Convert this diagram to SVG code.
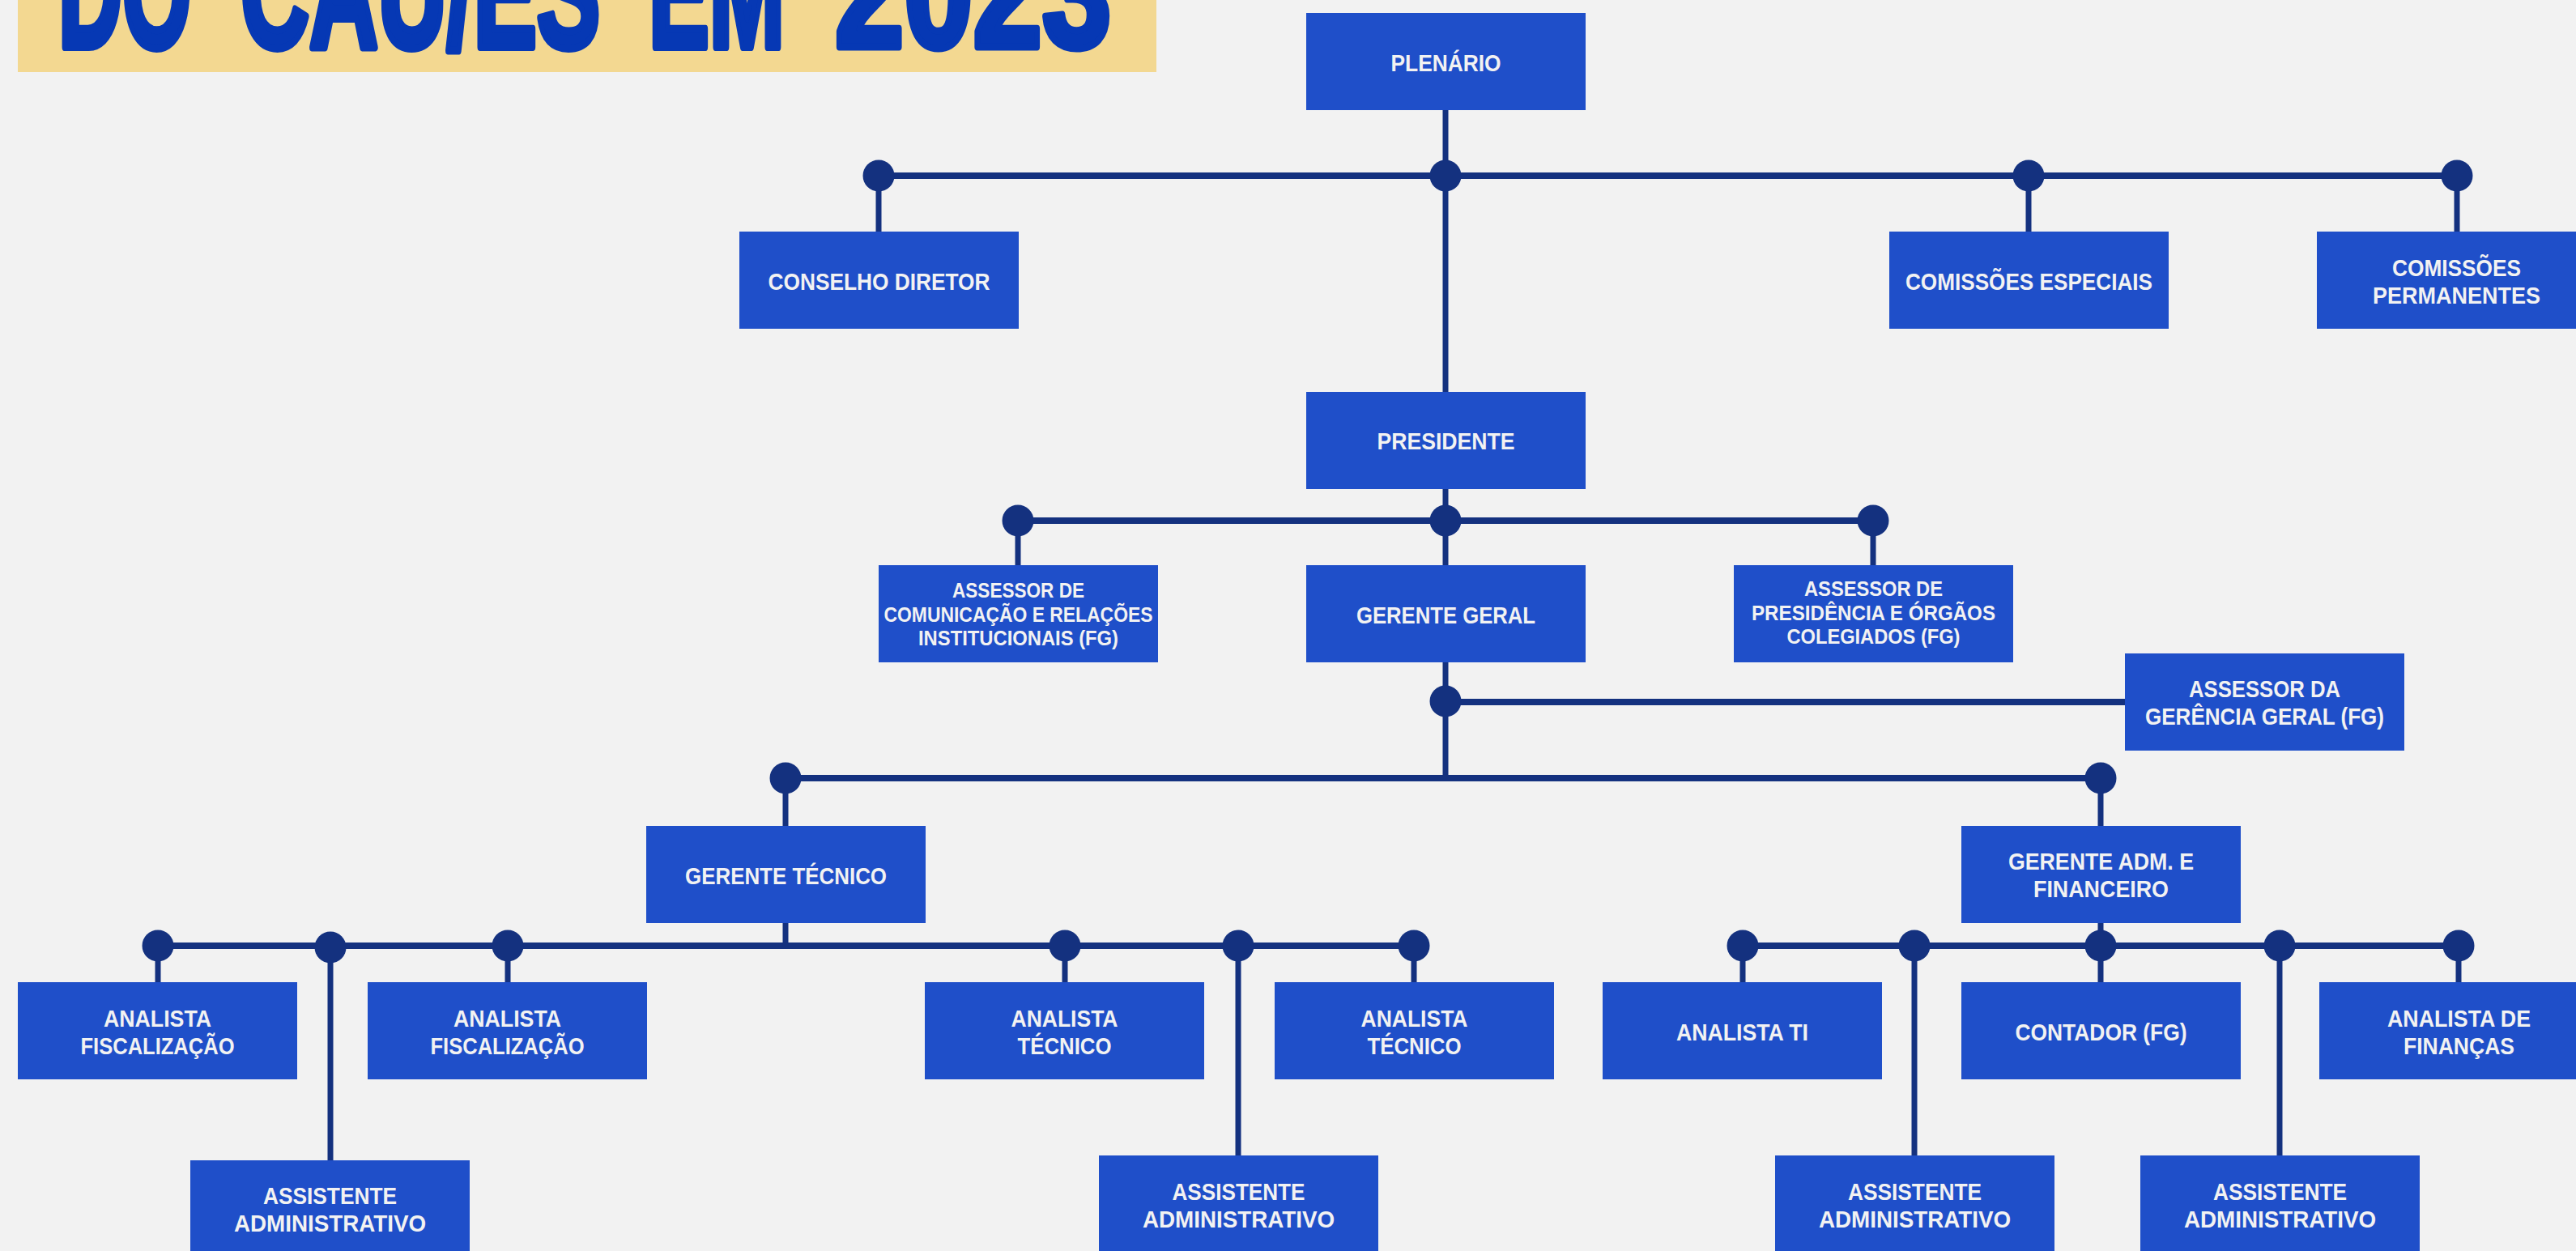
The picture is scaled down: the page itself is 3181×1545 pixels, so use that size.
<svg xmlns="http://www.w3.org/2000/svg" width="3181" height="1545" viewBox="0 0 3181 1545">
<style>
.bg{fill:#f2f2f2}
.box{fill:#1f4fc9}
.t{font-family:"Liberation Sans",Arial,sans-serif;font-weight:bold;font-size:30px;fill:#f2f2f2;text-anchor:middle}
.s{font-size:25px}
.title{font-family:"Liberation Sans",Arial,sans-serif;font-weight:bold;font-size:200px;fill:#0638b4;stroke:#0638b4;stroke-width:8;stroke-linejoin:round}
.h{stroke:#14317f;stroke-width:8;fill:none}
.v{stroke:#14317f;stroke-width:7;fill:none}
.dot{fill:#14317f}
</style>
<rect class="bg" x="0" y="0" width="3181" height="1545"/>
<g id="title">
<rect x="22" y="0" width="1406" height="89" fill="#f3d891"/>
<text class="title" transform="translate(72 58) scale(0.547 1)" vector-effect="non-scaling-stroke">DO</text>
<text class="title" transform="translate(297 58) scale(0.588 1)" vector-effect="non-scaling-stroke">CAU/ES</text>
<text class="title" transform="translate(801 58) scale(0.56 1)" vector-effect="non-scaling-stroke">EM</text>
<text class="title" transform="translate(1031 58) scale(0.767 1)" vector-effect="non-scaling-stroke">2023</text>
</g>
<g id="connectors">
<path class="h" d="M1085 217H3034M1257 643H2313M1785 867H2624M970 961H2594M195 1168H1746M2152 1168H3036"/>
<path class="v" d="M1785 136V484M1085 217V286M2505 217V286M3034 217V286M1785 604V698M1257 643V698M2313 643V698M1785 818V961M970 961V1020M2594 961V1020M970 1139V1168M2594 1140V1168M195 1168V1213M408 1168V1433M627 1168V1213M1315 1168V1213M1529 1168V1427M1746 1168V1213M2152 1168V1213M2364 1168V1427M2594 1168V1213M2815 1168V1427M3036 1168V1213"/>
<g class="dot">
<circle cx="1085" cy="217" r="19.5"/><circle cx="1785" cy="217" r="19.5"/><circle cx="2505" cy="217" r="19.5"/><circle cx="3034" cy="217" r="19.5"/>
<circle cx="1257" cy="643" r="19.5"/><circle cx="1785" cy="643" r="19.5"/><circle cx="2313" cy="643" r="19.5"/>
<circle cx="1785" cy="866" r="19.5"/>
<circle cx="970" cy="961" r="19.5"/><circle cx="2594" cy="961" r="19.5"/>
<circle cx="195" cy="1168" r="19.5"/><circle cx="408" cy="1170" r="19.5"/><circle cx="627" cy="1168" r="19.5"/><circle cx="1315" cy="1168" r="19.5"/><circle cx="1529" cy="1168" r="19.5"/><circle cx="1746" cy="1168" r="19.5"/>
<circle cx="2152" cy="1168" r="19.5"/><circle cx="2364" cy="1168" r="19.5"/><circle cx="2594" cy="1168" r="19.5"/><circle cx="2815" cy="1168" r="19.5"/><circle cx="3036" cy="1168" r="19.5"/>
</g>
</g>
<g id="plenario"><rect class="box" x="1613" y="16" width="345" height="120"/><text class="t" x="1785.5" y="88" textLength="136" lengthAdjust="spacingAndGlyphs">PLENÁRIO</text></g>
<g id="conselho-diretor"><rect class="box" x="913" y="286" width="345" height="120"/><text class="t" x="1085.5" y="358" textLength="274" lengthAdjust="spacingAndGlyphs">CONSELHO DIRETOR</text></g>
<g id="comissoes-especiais"><rect class="box" x="2333" y="286" width="345" height="120"/><text class="t" x="2505.5" y="358" textLength="305" lengthAdjust="spacingAndGlyphs">COMISSÕES ESPECIAIS</text></g>
<g id="comissoes-permanentes"><rect class="box" x="2861" y="286" width="345" height="120"/><text class="t" x="3033.5" y="341" textLength="159" lengthAdjust="spacingAndGlyphs">COMISSÕES</text><text class="t" x="3033.5" y="375" textLength="207" lengthAdjust="spacingAndGlyphs">PERMANENTES</text></g>
<g id="presidente"><rect class="box" x="1613" y="484" width="345" height="120"/><text class="t" x="1785.5" y="555" textLength="170" lengthAdjust="spacingAndGlyphs">PRESIDENTE</text></g>
<g id="assessor-comunicacao"><rect class="box" x="1085" y="698" width="345" height="120"/><text class="t s" x="1257.5" y="738" textLength="163" lengthAdjust="spacingAndGlyphs">ASSESSOR DE</text><text class="t s" x="1257.5" y="767.5" textLength="332" lengthAdjust="spacingAndGlyphs">COMUNICAÇÃO E RELAÇÕES</text><text class="t s" x="1257.5" y="797" textLength="247" lengthAdjust="spacingAndGlyphs">INSTITUCIONAIS (FG)</text></g>
<g id="gerente-geral"><rect class="box" x="1613" y="698" width="345" height="120"/><text class="t" x="1785.5" y="770" textLength="221" lengthAdjust="spacingAndGlyphs">GERENTE GERAL</text></g>
<g id="assessor-presidencia"><rect class="box" x="2141" y="698" width="345" height="120"/><text class="t s" x="2313.5" y="736" textLength="171" lengthAdjust="spacingAndGlyphs">ASSESSOR DE</text><text class="t s" x="2313.5" y="765.5" textLength="301" lengthAdjust="spacingAndGlyphs">PRESIDÊNCIA E ÓRGÃOS</text><text class="t s" x="2313.5" y="795" textLength="214" lengthAdjust="spacingAndGlyphs">COLEGIADOS (FG)</text></g>
<g id="assessor-gerencia-geral"><rect class="box" x="2624" y="807" width="345" height="120"/><text class="t" x="2796.5" y="861" textLength="187" lengthAdjust="spacingAndGlyphs">ASSESSOR DA</text><text class="t" x="2796.5" y="895" textLength="295" lengthAdjust="spacingAndGlyphs">GERÊNCIA GERAL (FG)</text></g>
<g id="gerente-tecnico"><rect class="box" x="798" y="1020" width="345" height="120"/><text class="t" x="970.5" y="1092" textLength="249" lengthAdjust="spacingAndGlyphs">GERENTE TÉCNICO</text></g>
<g id="gerente-adm"><rect class="box" x="2422" y="1020" width="345" height="120"/><text class="t" x="2594.5" y="1074" textLength="229" lengthAdjust="spacingAndGlyphs">GERENTE ADM. E</text><text class="t" x="2594.5" y="1108" textLength="167" lengthAdjust="spacingAndGlyphs">FINANCEIRO</text></g>
<g id="analista-fiscalizacao-1"><rect class="box" x="22" y="1213" width="345" height="120"/><text class="t" x="194.5" y="1268" textLength="133" lengthAdjust="spacingAndGlyphs">ANALISTA</text><text class="t" x="194.5" y="1302" textLength="190" lengthAdjust="spacingAndGlyphs">FISCALIZAÇÃO</text></g>
<g id="assistente-1"><rect class="box" x="235" y="1433" width="345" height="120"/><text class="t" x="407.5" y="1487" textLength="165" lengthAdjust="spacingAndGlyphs">ASSISTENTE</text><text class="t" x="407.5" y="1521" textLength="237" lengthAdjust="spacingAndGlyphs">ADMINISTRATIVO</text></g>
<g id="analista-fiscalizacao-2"><rect class="box" x="454" y="1213" width="345" height="120"/><text class="t" x="626.5" y="1268" textLength="133" lengthAdjust="spacingAndGlyphs">ANALISTA</text><text class="t" x="626.5" y="1302" textLength="190" lengthAdjust="spacingAndGlyphs">FISCALIZAÇÃO</text></g>
<g id="analista-tecnico-1"><rect class="box" x="1142" y="1213" width="345" height="120"/><text class="t" x="1314.5" y="1268" textLength="132" lengthAdjust="spacingAndGlyphs">ANALISTA</text><text class="t" x="1314.5" y="1302" textLength="116" lengthAdjust="spacingAndGlyphs">TÉCNICO</text></g>
<g id="assistente-2"><rect class="box" x="1357" y="1427" width="345" height="120"/><text class="t" x="1529.5" y="1482" textLength="164" lengthAdjust="spacingAndGlyphs">ASSISTENTE</text><text class="t" x="1529.5" y="1516" textLength="237" lengthAdjust="spacingAndGlyphs">ADMINISTRATIVO</text></g>
<g id="analista-tecnico-2"><rect class="box" x="1574" y="1213" width="345" height="120"/><text class="t" x="1746.5" y="1268" textLength="132" lengthAdjust="spacingAndGlyphs">ANALISTA</text><text class="t" x="1746.5" y="1302" textLength="116" lengthAdjust="spacingAndGlyphs">TÉCNICO</text></g>
<g id="analista-ti"><rect class="box" x="1979" y="1213" width="345" height="120"/><text class="t" x="2151.5" y="1285" textLength="163" lengthAdjust="spacingAndGlyphs">ANALISTA TI</text></g>
<g id="assistente-3"><rect class="box" x="2192" y="1427" width="345" height="120"/><text class="t" x="2364.5" y="1482" textLength="165" lengthAdjust="spacingAndGlyphs">ASSISTENTE</text><text class="t" x="2364.5" y="1516" textLength="237" lengthAdjust="spacingAndGlyphs">ADMINISTRATIVO</text></g>
<g id="contador"><rect class="box" x="2422" y="1213" width="345" height="120"/><text class="t" x="2594.5" y="1285" textLength="212" lengthAdjust="spacingAndGlyphs">CONTADOR (FG)</text></g>
<g id="assistente-4"><rect class="box" x="2643" y="1427" width="345" height="120"/><text class="t" x="2815.5" y="1482" textLength="165" lengthAdjust="spacingAndGlyphs">ASSISTENTE</text><text class="t" x="2815.5" y="1516" textLength="237" lengthAdjust="spacingAndGlyphs">ADMINISTRATIVO</text></g>
<g id="analista-financas"><rect class="box" x="2864" y="1213" width="345" height="120"/><text class="t" x="3036.5" y="1268" textLength="177" lengthAdjust="spacingAndGlyphs">ANALISTA DE</text><text class="t" x="3036.5" y="1302" textLength="137" lengthAdjust="spacingAndGlyphs">FINANÇAS</text></g>
</svg>
